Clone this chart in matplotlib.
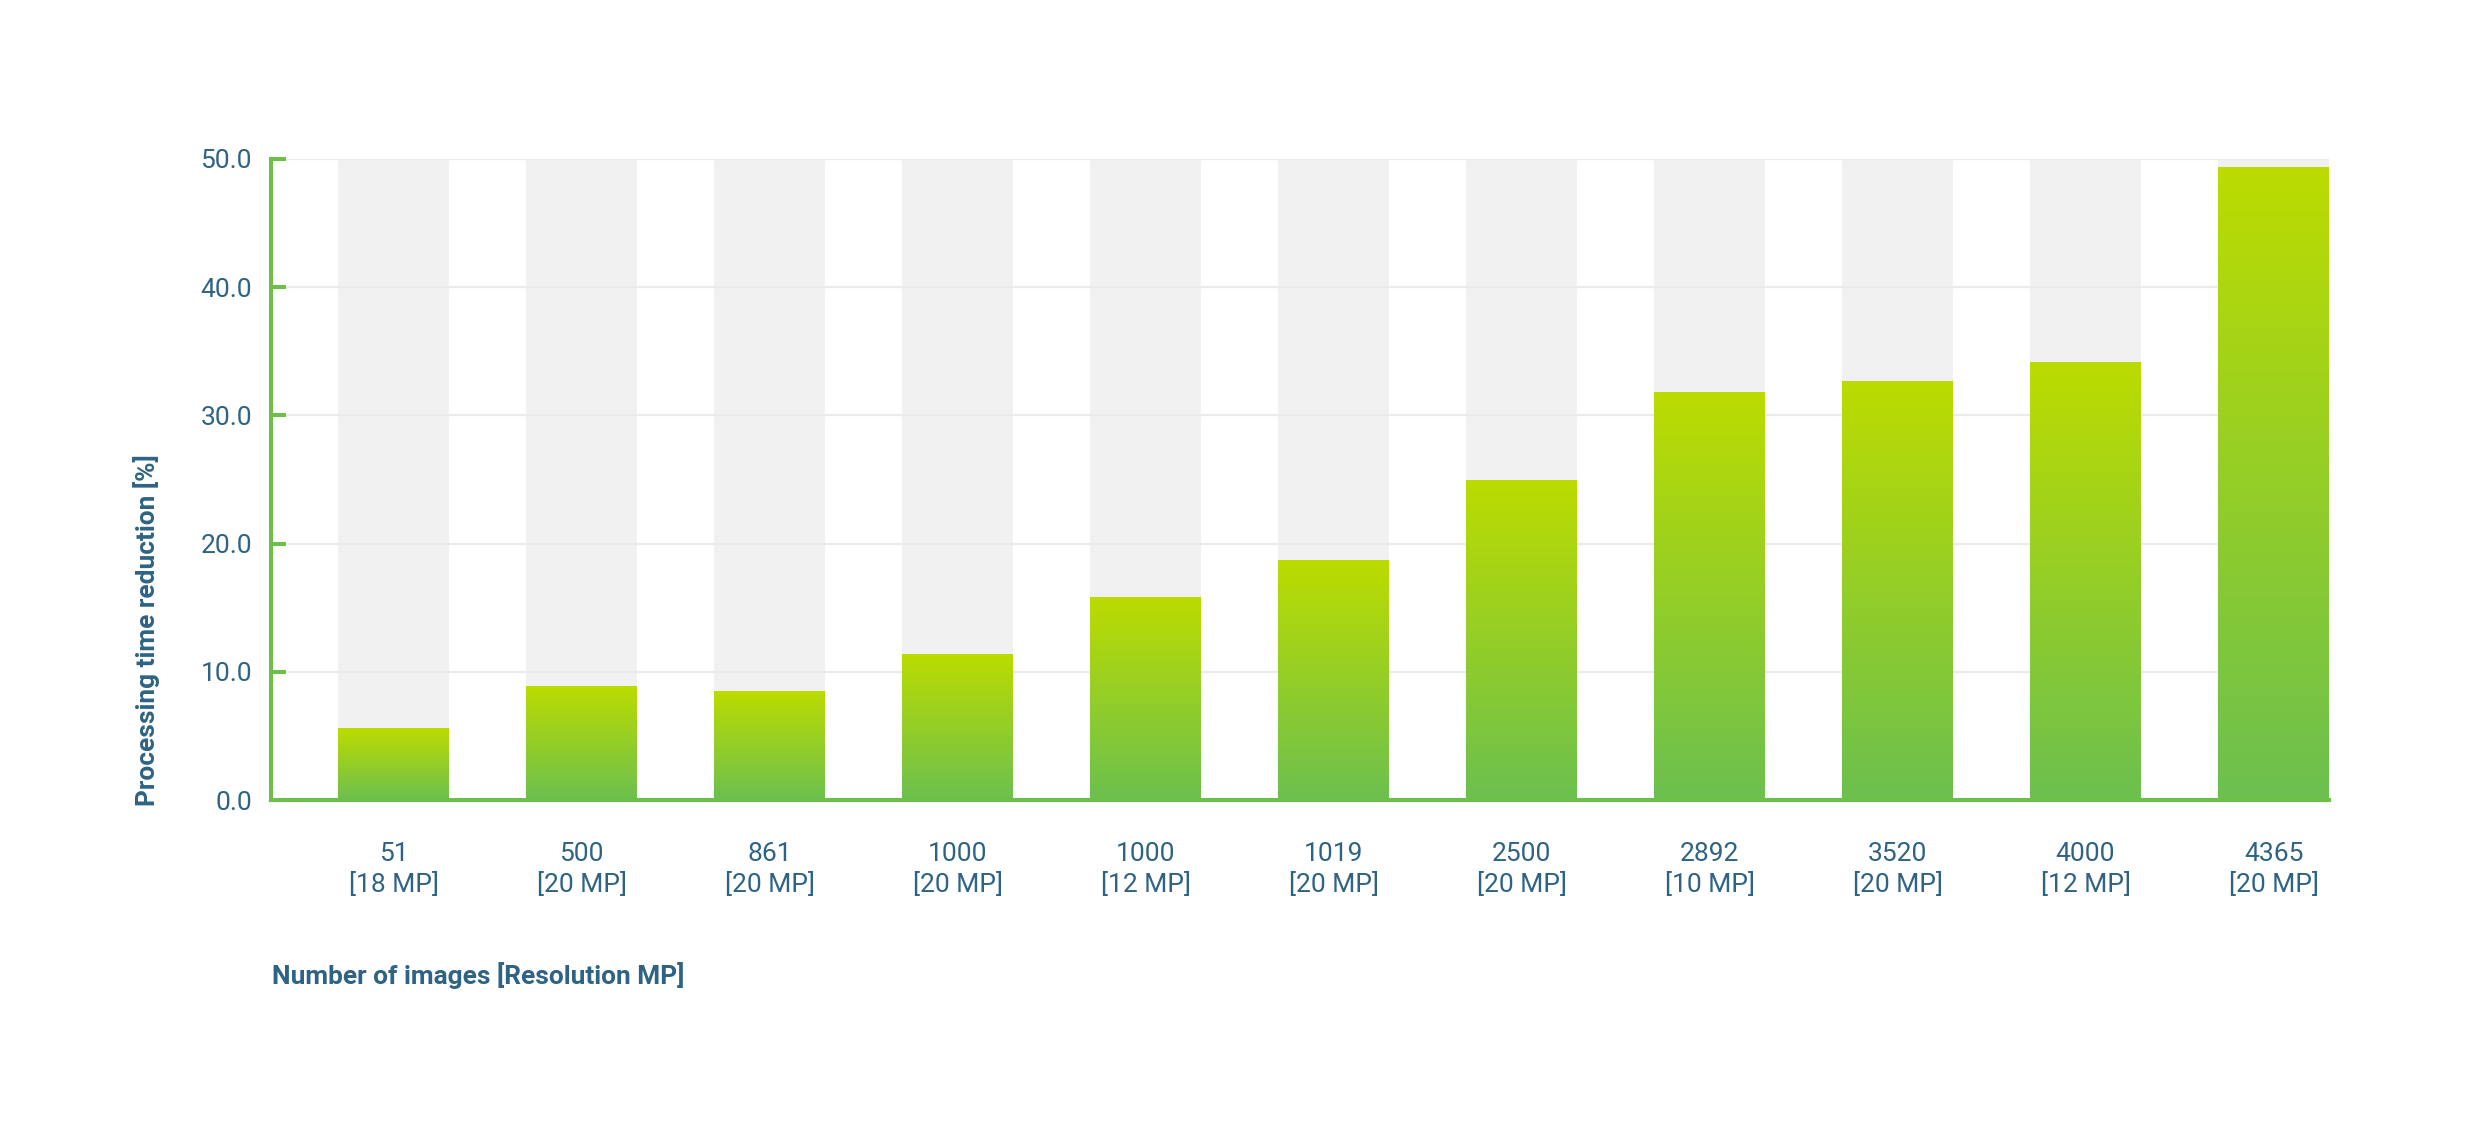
import matplotlib
matplotlib.use("Agg")
import matplotlib.pyplot as plt
import numpy as np
from matplotlib.colors import LinearSegmentedColormap

# ---- data ----
image_counts = ["51", "500", "861", "1000", "1000", "1019", "2500", "2892", "3520", "4000", "4365"]
resolutions = ["18 MP", "20 MP", "20 MP", "20 MP", "12 MP", "20 MP", "20 MP", "10 MP", "20 MP", "12 MP", "20 MP"]
reduction = [5.6, 8.9, 8.5, 11.4, 15.8, 18.7, 25.0, 31.8, 32.7, 34.2, 49.4]
y_ticks = [0, 10, 20, 30, 40, 50]
y_max = 50

TEXT = "#2E6384"
AXIS_GREEN = "#6CC04A"
TOP_C = "#BCDC00"
BOT_C = "#6CC04F"
BG_BAR = "#F1F1F1"
GRID = "#EBEBEB"

plt.rcParams['font.family'] = ['Roboto', 'DejaVu Sans']

W, H = 2489, 1129
fig = plt.figure(figsize=(W / 100, H / 100), dpi=100)
ax = fig.add_axes([271 / W, 1 - 800 / H, (2329 - 271) / W, (800 - 159) / H])

x = np.arange(len(reduction))
bw = 0.59

# background columns
ax.bar(x, [y_max] * len(x), width=bw, color=BG_BAR, zorder=1, linewidth=0)

# grid
for t in y_ticks[1:]:
    ax.axhline(t, color=GRID, linewidth=1.6, zorder=1.5)

# gradient bars
cmap = LinearSegmentedColormap.from_list("g", [BOT_C, TOP_C])
grad = np.linspace(0, 1, 256).reshape(-1, 1)
bars = ax.bar(x, reduction, width=bw, color="none", linewidth=0, zorder=2)
for b in bars:
    x0, y0 = b.get_x(), b.get_y()
    w, h = b.get_width(), b.get_height()
    im = ax.imshow(grad, cmap=cmap, origin="lower", aspect="auto",
                   extent=[x0, x0 + w, y0, y0 + h], zorder=2, interpolation="bilinear")
    im.set_clip_path(b)

ax.set_xlim(-0.6516, 10.295)
ax.set_ylim(0, y_max)

for s in ["top", "right"]:
    ax.spines[s].set_visible(False)
for s in ["left", "bottom"]:
    ax.spines[s].set_color(AXIS_GREEN)
    ax.spines[s].set_linewidth(2.9)
    ax.spines[s].set_zorder(3)

ax.set_yticks(y_ticks)
ax.set_yticklabels([f"{t:.1f}" for t in y_ticks])
ax.tick_params(axis="y", direction="in", length=11, width=2.9, color=AXIS_GREEN,
               labelsize=19, labelcolor=TEXT, pad=13.7)
ax.set_xticks(x)
ax.set_xticklabels([f"{c}\n[{r}]" for c, r in zip(image_counts, resolutions)],
                   linespacing=1.27)
ax.tick_params(axis="x", length=0, labelsize=19, labelcolor=TEXT, pad=30.5)

fig.text(147 / W, 1 - 806 / H, "Processing time reduction [%]", rotation=90,
         ha="center", va="bottom", fontsize=18.9, fontweight="bold", color=TEXT)
fig.text(272 / W, 1 - 976 / H, "Number of images [Resolution MP]",
         ha="left", va="center", fontsize=18.9, fontweight="bold", color=TEXT)

fig.savefig("out.png", dpi=100, facecolor="white")
